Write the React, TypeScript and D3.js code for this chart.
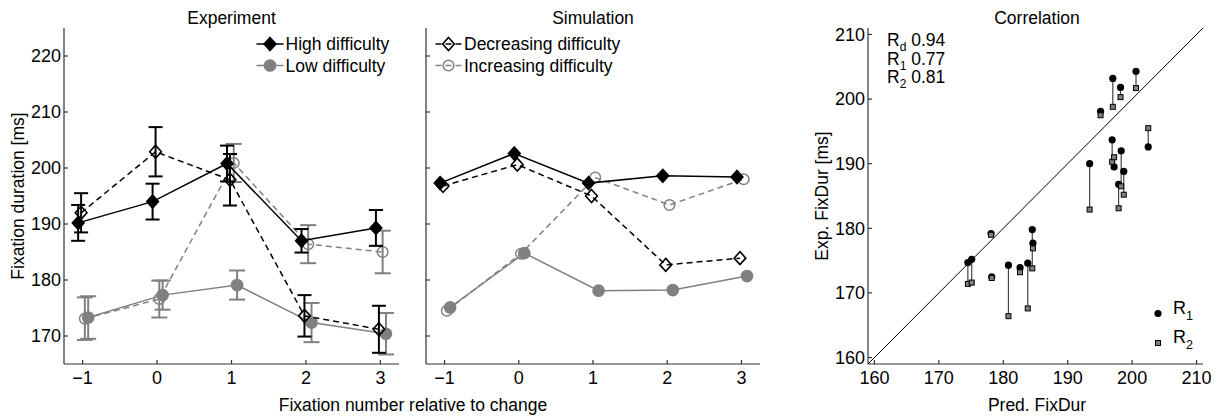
import React from "react";
import * as d3 from "d3";

// Fixation positions relative to the difficulty change
const positions = [-1, 0, 1, 2, 3];
const xTickLabels = ["\u22121", "0", "1", "2", "3"];

// Experiment: mean fixation duration [ms] and error-bar half widths
const expHigh = [190.2, 194.0, 200.8, 187.0, 189.3];
const expHighErr = [3.2, 3.2, 3.2, 2.1, 3.2];
const expLow = [173.3, 177.3, 179.1, 172.4, 170.4];
const expLowErr = [3.8, 2.6, 2.6, 3.5, 3.7];
const expDec = [192.0, 202.9, 197.9, 173.6, 171.2];
const expDecErr = [3.5, 4.4, 4.6, 3.7, 4.2];
const expInc = [173.1, 176.6, 200.9, 186.4, 185.0];
const expIncErr = [3.8, 3.3, 3.4, 3.4, 3.8];

// Simulation: predicted fixation duration [ms]
const simHigh = [197.3, 202.6, 197.3, 198.6, 198.4];
const simLow = [175.1, 184.8, 178.1, 178.2, 180.7];
const simDec = [196.8, 200.6, 195.0, 182.7, 183.9];
const simInc = [174.5, 184.7, 198.3, 193.4, 198.0];

// Correlation: predicted duration vs. experimental durations R1 and R2
const predFixDur = [
  174.5, 175.1, 178.1, 178.2, 180.8, 182.6, 183.8, 184.5, 184.6,
  193.4, 196.9, 197.2, 198.3, 198.7, 197.9,
  195.1, 197.0, 198.2, 200.6, 202.5,
];
const expR1 = [
  174.7, 175.2, 179.2, 172.5, 174.3, 173.9, 174.6, 179.8, 177.7,
  190.0, 193.7, 189.5, 192.0, 188.8, 186.8,
  198.1, 203.2, 201.8, 204.3, 192.6,
];
const expR2 = [
  171.4, 171.6, 179.0, 172.3, 166.4, 173.2, 167.6, 173.8, 176.9,
  182.9, 190.3, 191.0, 186.5, 185.2, 183.1,
  197.5, 198.8, 200.3, 201.7, 195.5,
];
const corrLabels = [
  { sub: "d", value: "0.94" },
  { sub: "1", value: "0.77" },
  { sub: "2", value: "0.81" },
];
const durTicks = [170, 180, 190, 200, 210, 220];
const corrTicks = [160, 170, 180, 190, 200, 210];

const FONT = "'Liberation Sans', Arial, Helvetica, sans-serif";
const BLACK = "#000";
const GRAY = "#808080";
const AXIS = "#333";

type Series = {
  name: string;
  values: number[];
  err?: number[];
  color: string;
  dashed: boolean;
  marker: "diamond" | "circle";
  filled: boolean;
  offset: number;
};

function Marker({ kind, filled, color, x, y }: { kind: string; filled: boolean; color: string; x: number; y: number }) {
  if (kind === "diamond") {
    const r = 6.5;
    return (
      <path
        d={`M${x},${y - r}L${x + r * 0.9},${y}L${x},${y + r}L${x - r * 0.9},${y}Z`}
        fill={filled ? color : "none"}
        stroke={color}
        strokeWidth={1.6}
      />
    );
  }
  return (
    <circle cx={x} cy={y} r={filled ? 5.6 : 5.3} fill={filled ? color : "none"} stroke={color} strokeWidth={1.5} />
  );
}

function LinePanel({
  x0,
  x1,
  title,
  series,
  showYLabels,
  legend,
  legendX,
}: {
  x0: number;
  x1: number;
  title: string;
  series: Series[];
  showYLabels: boolean;
  legend: Series[];
  legendX: number;
}) {
  const x = d3.scaleLinear().domain([-1.25, 3.25]).range([x0, x1]);
  const y = d3.scaleLinear().domain([165, 225]).range([364, 28]);
  const line = d3
    .line<[number, number]>()
    .x((d) => d[0])
    .y((d) => d[1]);
  const [yBottom, yTop] = y.range();
  return (
    <g>
      <text x={(x0 + x1) / 2} y={24} textAnchor="middle" fontSize={17.5} fontFamily={FONT}>
        {title}
      </text>
      {/* axes */}
      <line x1={x0} x2={x0} y1={yBottom} y2={yTop} stroke={AXIS} strokeWidth={1.2} />
      <line x1={x0} x2={x1} y1={yBottom} y2={yBottom} stroke={AXIS} strokeWidth={1.2} />
      {durTicks.map((t) => (
        <g key={t}>
          <line x1={x0} x2={x0 + 4} y1={y(t)} y2={y(t)} stroke={AXIS} strokeWidth={1.2} />
          {showYLabels && (
            <text x={x0 - 3} y={y(t) + 6.3} textAnchor="end" fontSize={18} fontFamily={FONT}>
              {t}
            </text>
          )}
        </g>
      ))}
      {positions.map((p, i) => (
        <g key={p}>
          <line x1={x(p)} x2={x(p)} y1={yBottom} y2={yBottom - 4} stroke={AXIS} strokeWidth={1.2} />
          <text x={x(p)} y={384} textAnchor="middle" fontSize={18} fontFamily={FONT}>
            {xTickLabels[i]}
          </text>
        </g>
      ))}
      {/* series */}
      {series.map((s) => {
        const pts = s.values.map((v, i) => [x(positions[i] + s.offset), y(v)] as [number, number]);
        return (
          <g key={s.name}>
            <path
              d={line(pts) || ""}
              fill="none"
              stroke={s.color}
              strokeWidth={1.5}
              strokeDasharray={s.dashed ? "6,4" : undefined}
            />
            {s.err &&
              s.values.map((v, i) => {
                const cx = x(positions[i] + s.offset);
                const lo = y(v - s.err![i]);
                const hi = y(v + s.err![i]);
                const w = s.color === GRAY ? 8 : 7;
                return (
                  <g key={i} stroke={s.color} strokeWidth={2} fill="none">
                    <line x1={cx} x2={cx} y1={lo} y2={hi} />
                    <line x1={cx - w} x2={cx + w} y1={lo} y2={lo} />
                    <line x1={cx - w} x2={cx + w} y1={hi} y2={hi} />
                  </g>
                );
              })}
            {pts.map((pt, i) => (
              <Marker key={i} kind={s.marker} filled={s.filled} color={s.color} x={pt[0]} y={pt[1]} />
            ))}
          </g>
        );
      })}
      {/* legend */}
      {legend.map((s, i) => {
        const ly = 44 + i * 21.5;
        return (
          <g key={s.name}>
            <line
              x1={legendX}
              x2={legendX + 27}
              y1={ly}
              y2={ly}
              stroke={s.color}
              strokeWidth={1.5}
              strokeDasharray={s.dashed ? "6,4" : undefined}
              strokeDashoffset={s.dashed ? -0.5 : undefined}
            />
            <Marker kind={s.marker} filled={s.filled} color={s.color} x={legendX + 13.5} y={ly} />
            <text x={legendX + 29} y={ly + 6.2} fontSize={17.5} fontFamily={FONT}>
              {s.name}
            </text>
          </g>
        );
      })}
    </g>
  );
}

function CorrelationPanel() {
  const x = d3.scaleLinear().domain([159, 211]).range([868, 1203]);
  const y = d3.scaleLinear().domain([159, 211]).range([364, 28]);
  const [yBottom, yTop] = y.range();
  const [xLeft, xRight] = x.range();
  const sq = 5;
  return (
    <g>
      <text x={1037} y={24} textAnchor="middle" fontSize={17.5} fontFamily={FONT}>
        Correlation
      </text>
      <line x1={xLeft} x2={xLeft} y1={yBottom} y2={yTop} stroke={AXIS} strokeWidth={1.2} />
      <line x1={xLeft} x2={xRight} y1={yBottom} y2={yBottom} stroke={AXIS} strokeWidth={1.2} />
      {corrTicks.map((t) => (
        <g key={t}>
          <line x1={xLeft} x2={xLeft + 4} y1={y(t)} y2={y(t)} stroke={AXIS} strokeWidth={1.2} />
          <text x={xLeft - 3} y={y(t) + 6.3} textAnchor="end" fontSize={18} fontFamily={FONT}>
            {t}
          </text>
          <line x1={x(t)} x2={x(t)} y1={yBottom} y2={yBottom - 4} stroke={AXIS} strokeWidth={1.2} />
          <text x={x(t)} y={384} textAnchor="middle" fontSize={18} fontFamily={FONT}>
            {t}
          </text>
        </g>
      ))}
      {/* identity line */}
      <line x1={x(159)} y1={y(159)} x2={x(211)} y2={y(211)} stroke={BLACK} strokeWidth={1} />
      {/* R1 to R2 connectors */}
      {predFixDur.map((p, i) => (
        <line key={`c${i}`} x1={x(p)} x2={x(p)} y1={y(expR1[i])} y2={y(expR2[i])} stroke="#444" strokeWidth={1.2} />
      ))}
      {predFixDur.map((p, i) => (
        <circle key={`r1${i}`} cx={x(p)} cy={y(expR1[i])} r={3.6} fill={BLACK} />
      ))}
      {predFixDur.map((p, i) => (
        <rect
          key={`r2${i}`}
          x={x(p) - sq / 2}
          y={y(expR2[i]) - sq / 2}
          width={sq}
          height={sq}
          fill={GRAY}
          stroke={BLACK}
          strokeWidth={1}
        />
      ))}
      {/* correlation coefficients */}
      {corrLabels.map((c, i) => (
        <text key={c.sub} x={887} y={46 + i * 18.5} fontSize={17.5} fontFamily={FONT}>
          R
          <tspan fontSize={12} dy={5}>
            {c.sub}
          </tspan>
          <tspan dy={-5}> {c.value}</tspan>
        </text>
      ))}
      {/* legend */}
      <circle cx={1158} cy={313.5} r={3.6} fill={BLACK} />
      <text x={1173} y={313.5} fontSize={18} fontFamily={FONT}>
        R<tspan fontSize={12.5} dy={6}>1</tspan>
      </text>
      <rect x={1158 - sq / 2} y={343 - sq / 2} width={sq} height={sq} fill={GRAY} stroke={BLACK} strokeWidth={1} />
      <text x={1173} y={343} fontSize={18} fontFamily={FONT}>
        R<tspan fontSize={12.5} dy={6}>2</tspan>
      </text>
      <text x={1037} y={411} textAnchor="middle" fontSize={17.5} fontFamily={FONT}>
        Pred. FixDur
      </text>
      <text
        transform={`translate(828,196) rotate(-90)`}
        textAnchor="middle"
        fontSize={17.5}
        fontFamily={FONT}
      >
        Exp. FixDur [ms]
      </text>
    </g>
  );
}

export default function App() {
  const high = (values: number[], err?: number[]): Series => ({
    name: "High difficulty",
    values,
    err,
    color: BLACK,
    dashed: false,
    marker: "diamond",
    filled: true,
    offset: -0.06,
  });
  const low = (values: number[], err?: number[]): Series => ({
    name: "Low difficulty",
    values,
    err,
    color: GRAY,
    dashed: false,
    marker: "circle",
    filled: true,
    offset: 0.075,
  });
  const dec = (values: number[], err?: number[]): Series => ({
    name: "Decreasing difficulty",
    values,
    err,
    color: BLACK,
    dashed: true,
    marker: "diamond",
    filled: false,
    offset: -0.02,
  });
  const inc = (values: number[], err?: number[]): Series => ({
    name: "Increasing difficulty",
    values,
    err,
    color: GRAY,
    dashed: true,
    marker: "circle",
    filled: false,
    offset: 0.03,
  });

  const expSeries = [
    low(expLow, expLowErr),
    inc(expInc, expIncErr),
    dec(expDec, expDecErr),
    high(expHigh, expHighErr),
  ];
  const simSeries = [low(simLow), inc(simInc), dec(simDec), high(simHigh)];

  return (
    <svg
      width={1217}
      height={419}
      style={{ position: "absolute", left: 0, top: 0, background: "#fff" }}
    >
      <rect width={1217} height={419} fill="#fff" />
      <LinePanel
        x0={64}
        x1={399}
        title="Experiment"
        series={expSeries}
        showYLabels={true}
        legend={[high([]), low([])]}
        legendX={256.5}
      />
      <LinePanel
        x0={426}
        x1={760}
        title="Simulation"
        series={simSeries}
        showYLabels={false}
        legend={[dec([]), inc([])]}
        legendX={435}
      />
      <text x={413} y={411} textAnchor="middle" fontSize={17.5} fontFamily={FONT}>
        Fixation number relative to change
      </text>
      <text transform="translate(24,196) rotate(-90)" textAnchor="middle" fontSize={17.5} fontFamily={FONT}>
        Fixation duration [ms]
      </text>
      <CorrelationPanel />
    </svg>
  );
}
